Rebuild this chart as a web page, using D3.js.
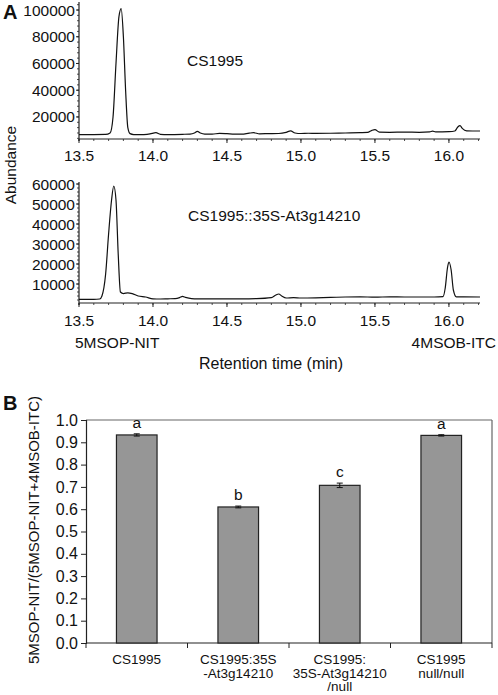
<!DOCTYPE html>
<html><head><meta charset="utf-8">
<script src="https://cdn.jsdelivr.net/npm/d3@7"></script>
<style>
body{margin:0;background:#fff;}
svg{display:block;font-family:"Liberation Sans",Arial,sans-serif;}
text{fill:#111;}
</style></head><body>
<script>
// Panel A data: [retention time (min), abundance]
const traceTop = [
[13.50,6800],[13.60,6800],[13.68,6900],[13.71,8000],[13.73,20000],[13.75,60000],[13.77,95000],[13.785,101000],
[13.80,80000],[13.815,40000],[13.83,12000],[13.845,7500],[13.87,6800],[13.92,6700],[13.96,7000],[13.98,7300],
[14.02,8200],[14.05,7000],[14.10,6800],[14.20,7000],[14.25,7200],[14.28,8000],[14.30,9200],[14.32,8000],
[14.35,7200],[14.40,7200],[14.45,7700],[14.50,7500],[14.55,7200],[14.60,7200],[14.65,7900],[14.68,8200],
[14.72,7400],[14.78,7500],[14.85,7600],[14.90,8500],[14.93,9600],[14.96,8000],[15.00,7600],[15.05,7800],
[15.10,7700],[15.20,7800],[15.30,8000],[15.40,8200],[15.45,8400],[15.48,10000],[15.50,10500],[15.53,8600],
[15.60,8500],[15.70,8700],[15.80,8500],[15.87,8800],[15.89,9400],[15.91,8800],[16.00,9000],[16.04,9500],
[16.06,12500],[16.075,13500],[16.09,11500],[16.12,9600],[16.16,9500],[16.21,9500]
];
const traceBottom = [
[13.50,2300],[13.60,2300],[13.64,2500],[13.655,4000],[13.68,15000],[13.70,35000],[13.72,52000],[13.735,59000],
[13.75,52000],[13.765,25000],[13.78,6000],[13.80,5200],[13.83,5600],[13.86,5200],[13.90,4000],[13.95,3500],
[14.00,2600],[14.05,2500],[14.10,2600],[14.15,2700],[14.18,3200],[14.20,3800],[14.22,3300],[14.26,2700],
[14.30,2600],[14.40,2600],[14.50,2600],[14.60,2600],[14.70,2700],[14.80,3200],[14.83,4500],[14.85,5000],
[14.87,4000],[14.90,3000],[14.95,3200],[15.00,3000],[15.10,3100],[15.20,3300],[15.30,3500],[15.40,3600],
[15.50,3400],[15.60,3600],[15.70,3500],[15.80,3500],[15.90,3500],[15.96,3700],[15.975,8000],[15.99,18000],
[16.00,21000],[16.015,17000],[16.03,7000],[16.05,3600],[16.10,3600],[16.21,3500]
];
const xTicksA = [13.5,14.0,14.5,15.0,15.5,16.0];
const yTicksTop = [20000,40000,60000,80000,100000];
const yTicksBottom = [10000,20000,30000,40000,50000,60000];

// Panel B data
const categories = [["CS1995"],["CS1995:35S","-At3g14210"],["CS1995:","35S-At3g14210","/null"],["CS1995","null/null"]];
const ratios = [0.933,0.610,0.707,0.931];
const errors = [0.005,0.004,0.010,0.003];
const letters = ["a","b","c","a"];
const yTicksB = [0,0.1,0.2,0.3,0.4,0.5,0.6,0.7,0.8,0.9,1.0];

const W=498,H=695;
const svg=d3.select("body").append("svg").attr("width",W).attr("height",H);

const x = d3.scaleLinear().domain([13.5,16.21]).range([79,480]);

function chrom(data, yDomain, yRange, yTicks, yMinorStep, label, labelPos, tickBase){
  const y = d3.scaleLinear().domain(yDomain).range(yRange);
  const g = svg.append("g");
  const minorX = d3.range(13.5,16.21,0.1);
  g.selectAll(".mx").data(minorX).join("line")
    .attr("x1",d=>x(d)).attr("x2",d=>x(d)).attr("y1",yRange[0]).attr("y2",yRange[0]+2)
    .attr("stroke","#222").attr("stroke-width",0.8);
  g.selectAll(".Mx").data(xTicksA).join("line")
    .attr("x1",d=>x(d)).attr("x2",d=>x(d)).attr("y1",yRange[0]).attr("y2",yRange[0]+4)
    .attr("stroke","#222").attr("stroke-width",1);
  g.selectAll(".xl").data(xTicksA).join("text")
    .attr("x",d=>x(d)).attr("y",tickBase).attr("text-anchor","middle").attr("font-size",15.5)
    .text(d=>d.toFixed(1));
  const minorY = d3.range(Math.ceil(yDomain[0]/yMinorStep)*yMinorStep, yDomain[1], yMinorStep);
  g.selectAll(".my").data(minorY).join("line")
    .attr("x1",77).attr("x2",79).attr("y1",d=>y(d)).attr("y2",d=>y(d))
    .attr("stroke","#222").attr("stroke-width",0.8);
  g.selectAll(".My").data(yTicks).join("line")
    .attr("x1",76).attr("x2",79).attr("y1",d=>y(d)).attr("y2",d=>y(d))
    .attr("stroke","#222").attr("stroke-width",1);
  g.selectAll(".yl").data(yTicks).join("text")
    .attr("x",75).attr("y",d=>y(d)+5.5).attr("text-anchor","end").attr("font-size",15.5)
    .text(d=>d);
  g.append("line").attr("x1",79).attr("x2",79).attr("y1",yRange[1]).attr("y2",yRange[0]+2).attr("stroke","#222").attr("stroke-width",1.2);
  g.append("line").attr("x1",79).attr("x2",480).attr("y1",yRange[0]).attr("y2",yRange[0]).attr("stroke","#222").attr("stroke-width",1.2);
  g.append("path").datum(data)
    .attr("d",d3.line().x(d=>x(d[0])).y(d=>y(d[1])).curve(d3.curveMonotoneX))
    .attr("fill","none").attr("stroke","#111").attr("stroke-width",1.2);
  g.append("text").attr("x",labelPos[0]).attr("y",labelPos[1]).attr("font-size",15.5).text(label);
}

chrom(traceTop,[3500,106000],[139,2],yTicksTop,4000,"CS1995",[187,66],161);
chrom(traceBottom,[500,61000],[303,182],yTicksBottom,2000,"CS1995::35S-At3g14210",[188,221],326);

svg.append("text").attr("x",3).attr("y",19).attr("font-size",20).attr("font-weight","bold").text("A");
svg.append("text").attr("transform","translate(16,165) rotate(-90)").attr("text-anchor","middle").attr("font-size",15.5).text("Abundance");
svg.append("text").attr("x",75).attr("y",348).attr("font-size",15.5).text("5MSOP-NIT");
svg.append("text").attr("x",496).attr("y",348).attr("text-anchor","end").attr("font-size",15.5).text("4MSOB-ITC");
svg.append("text").attr("x",271).attr("y",369).attr("text-anchor","middle").attr("font-size",16).text("Retention time (min)");

// Panel B
const bx = d3.scaleBand().domain(d3.range(categories.length)).range([86,492]).paddingInner(0.6).paddingOuter(0.3);
const by = d3.scaleLinear().domain([0,1]).range([643,420]);
const gB = svg.append("g");
gB.append("text").attr("x",3).attr("y",410).attr("font-size",20).attr("font-weight","bold").text("B");
gB.append("line").attr("x1",86).attr("x2",492).attr("y1",420).attr("y2",420).attr("stroke","#666").attr("stroke-width",1.2);
gB.append("line").attr("x1",492).attr("x2",492).attr("y1",420).attr("y2",643).attr("stroke","#666").attr("stroke-width",1.2);
const yAxisB = d3.axisLeft(by).tickValues(yTicksB).tickFormat(d3.format(".1f")).tickSize(5).tickPadding(3);
const ya = gB.append("g").attr("transform","translate(86,0)").call(yAxisB);
ya.select(".domain").attr("stroke","#222").attr("stroke-width",1.2);
ya.selectAll("line").attr("stroke","#222");
ya.selectAll("text").attr("font-size",16).attr("font-family","Liberation Sans, Arial, sans-serif").attr("fill","#111");
gB.append("line").attr("x1",86).attr("x2",492).attr("y1",643).attr("y2",643).attr("stroke","#222").attr("stroke-width",1.2);
const bounds = d3.range(categories.length+1).map(i=>86 + i*bx.step());
gB.selectAll(".bt").data(bounds).join("line")
  .attr("x1",d=>d).attr("x2",d=>d).attr("y1",643).attr("y2",648).attr("stroke","#222");
gB.selectAll(".bar").data(ratios).join("rect")
  .attr("x",(d,i)=>bx(i)).attr("width",bx.bandwidth())
  .attr("y",d=>by(d)).attr("height",d=>by(0)-by(d))
  .attr("fill","#969696").attr("stroke","#222").attr("stroke-width",1.2);
ratios.forEach((v,i)=>{
  const cx = bx(i)+bx.bandwidth()/2;
  const e = errors[i];
  gB.append("line").attr("x1",cx).attr("x2",cx).attr("y1",by(v+e)).attr("y2",by(v-e)).attr("stroke","#111");
  [v+e,v-e].forEach(t=>gB.append("line").attr("x1",cx-3).attr("x2",cx+3).attr("y1",by(t)).attr("y2",by(t)).attr("stroke","#111"));
  gB.append("text").attr("x",cx).attr("y",by(v+e)-6).attr("text-anchor","middle").attr("font-size",15.5).text(letters[i]);
  categories[i].forEach((ln,j)=>{
    gB.append("text").attr("x",cx).attr("y",664+j*13.5).attr("text-anchor","middle").attr("font-size",13.5).text(ln);
  });
});
svg.append("text").attr("transform","translate(39,530) rotate(-90)").attr("text-anchor","middle").attr("font-size",15).text("5MSOP-NIT/(5MSOP-NIT+4MSOB-ITC)");
</script></body></html>
